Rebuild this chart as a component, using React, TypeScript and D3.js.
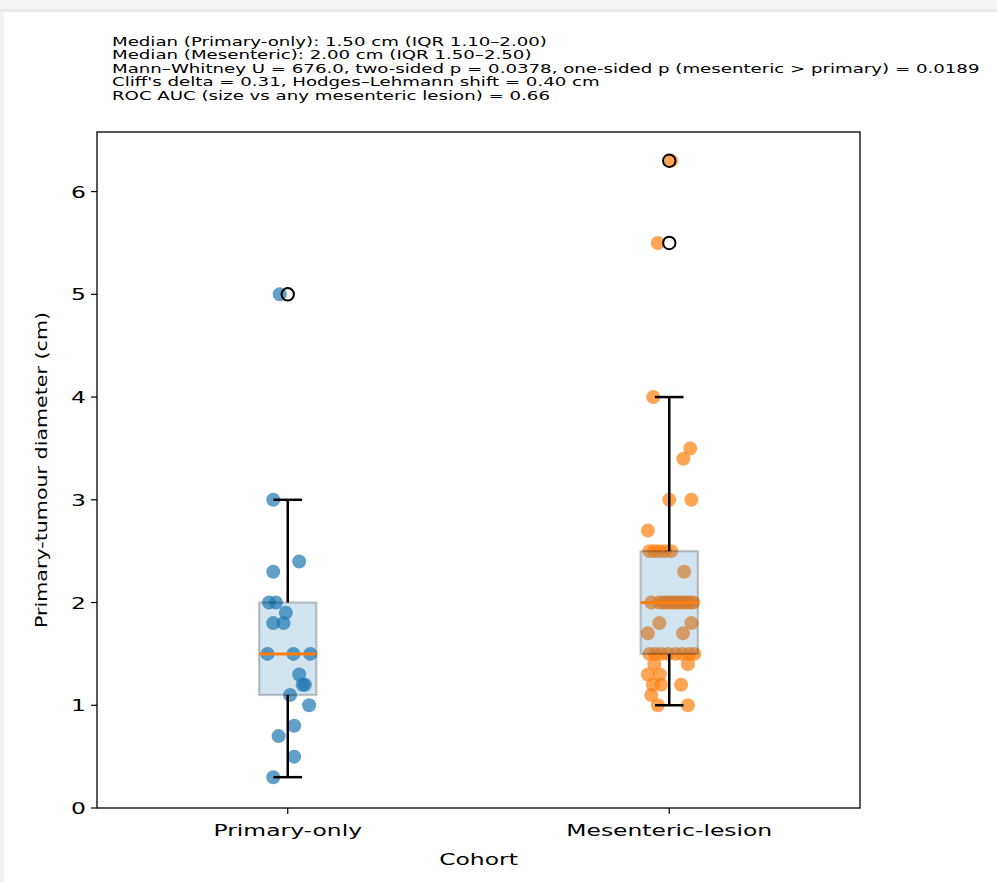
import React, { useEffect } from 'react';
import * as d3 from 'd3';

const categories = ['Primary-only', 'Mesenteric-lesion'];

const primaryValues = [
  5.0, 3.0, 2.4, 2.3, 2.0, 2.0, 1.9, 1.8, 1.8, 1.5, 1.5,
  1.5, 1.3, 1.2, 1.2, 1.1, 1.0, 0.8, 0.7, 0.5, 0.3,
];
const primaryJitter = [
  -0.021, -0.038, 0.030, -0.038, -0.049, -0.031, -0.005, -0.038, -0.011, -0.053, 0.015,
  0.059, 0.030, 0.045, 0.039, 0.006, 0.056, 0.017, -0.024, 0.017, -0.038,
];

const mesentericValues = [
  6.3, 5.5, 4.0, 3.5, 3.4, 3.0, 3.0, 2.7,
  2.5, 2.5, 2.5, 2.5, 2.5, 2.3,
  2.0, 2.0, 2.0, 2.0, 2.0, 2.0, 2.0, 2.0, 2.0, 2.0, 2.0, 2.0, 2.0,
  1.8, 1.8, 1.7, 1.7,
  1.5, 1.5, 1.5, 1.5, 1.5, 1.5, 1.5, 1.5,
  1.4, 1.4, 1.3, 1.3, 1.2, 1.2, 1.2, 1.1, 1.0, 1.0,
];
const mesentericJitter = [
  0.005, -0.030, -0.042, 0.055, 0.037, 0.000, 0.058, -0.056,
  -0.052, -0.039, -0.026, -0.011, 0.005, 0.039,
  -0.047, -0.026, -0.016, -0.008, 0.000, 0.008, 0.016, 0.024, 0.031, 0.039, 0.047, 0.055, 0.063,
  -0.026, 0.058, -0.056, 0.036,
  -0.052, -0.037, -0.021, -0.003, 0.016, 0.034, 0.052, 0.066,
  -0.039, 0.049, -0.056, -0.025, -0.043, -0.021, 0.031, -0.047, -0.030, 0.049,
];

const yTicks = [0, 1, 2, 3, 4, 5, 6];

const headerLines = [
  'Median (Primary-only): 1.50 cm (IQR 1.10\u20132.00)',
  'Median (Mesenteric): 2.00 cm (IQR 1.50\u20132.50)',
  'Mann\u2013Whitney U = 676.0, two-sided p = 0.0378, one-sided p (mesenteric > primary) = 0.0189',
  "Cliff's delta = 0.31, Hodges\u2013Lehmann shift = 0.40 cm",
  'ROC AUC (size vs any mesenteric lesion) = 0.66',
];

const groups = [
  { label: categories[0], pos: 1, values: primaryValues, jitter: primaryJitter, color: '#1f77b4' },
  { label: categories[1], pos: 2, values: mesentericValues, jitter: mesentericJitter, color: '#ff7f0e' },
];

const W = 997;
const H = 883;
const plot = { left: 97, right: 860, top: 132, bottom: 808 };
const font = 'DejaVu Sans, sans-serif';

const App = () => {
  useEffect(() => {
    const svg = d3.select('#chart')
      .append('svg')
      .attr('width', W)
      .attr('height', H)
      .style('position', 'absolute')
      .style('left', 0)
      .style('top', 0);

    // screenshot frame
    svg.append('rect').attr('x', 0).attr('y', 0).attr('width', W).attr('height', H).attr('fill', '#fff');
    svg.append('rect').attr('x', 0).attr('y', 0).attr('width', W).attr('height', 10).attr('fill', '#f3f3f3');
    svg.append('rect').attr('x', 0).attr('y', 9).attr('width', W).attr('height', 3).attr('fill', '#e8e8e8');
    svg.append('rect').attr('x', 0).attr('y', 12).attr('width', 4).attr('height', H - 12).attr('fill', '#f1f1f1');

    const x = d3.scaleLinear().domain([0.5, 2.5]).range([plot.left, plot.right]);
    const y = d3.scaleLinear().domain([0, 6.58]).range([plot.bottom, plot.top]);

    const boxHalf = x(1.075) - x(1);
    const capHalf = boxHalf / 2;
    const sx = 1.42;

    // points
    groups.forEach((g) => {
      svg.append('g')
        .selectAll('circle')
        .data(g.values)
        .enter()
        .append('circle')
        .attr('cx', (d, i) => x(g.pos + g.jitter[i]))
        .attr('cy', (d) => y(d))
        .attr('r', 7)
        .attr('fill', g.color)
        .attr('fill-opacity', 0.7);
    });

    // boxplots
    groups.forEach((g) => {
      const sorted = [...g.values].sort(d3.ascending);
      const q1 = d3.quantile(sorted, 0.25);
      const med = d3.quantile(sorted, 0.5);
      const q3 = d3.quantile(sorted, 0.75);
      const iqr = q3 - q1;
      const inside = sorted.filter((v) => v >= q1 - 1.5 * iqr && v <= q3 + 1.5 * iqr);
      const lo = d3.min(inside);
      const hi = d3.max(inside);
      const fliers = sorted.filter((v) => v < lo || v > hi);
      const cx = x(g.pos);
      const b = svg.append('g');

      b.append('rect')
        .attr('x', cx - boxHalf)
        .attr('y', y(q3))
        .attr('width', boxHalf * 2)
        .attr('height', y(q1) - y(q3))
        .attr('fill', '#1f77b4')
        .attr('fill-opacity', 0.2)
        .attr('stroke', '#000')
        .attr('stroke-opacity', 0.22)
        .attr('stroke-width', 2.2);

      [[q3, hi], [q1, lo]].forEach(([a, c]) => {
        b.append('line')
          .attr('x1', cx).attr('x2', cx)
          .attr('y1', y(a)).attr('y2', y(c))
          .attr('stroke', '#000').attr('stroke-width', 2.5);
        b.append('line')
          .attr('x1', cx - capHalf).attr('x2', cx + capHalf)
          .attr('y1', y(c)).attr('y2', y(c))
          .attr('stroke', '#000').attr('stroke-width', 2.5);
      });

      b.append('line')
        .attr('x1', cx - boxHalf).attr('x2', cx + boxHalf)
        .attr('y1', y(med)).attr('y2', y(med))
        .attr('stroke', '#ff7f0e').attr('stroke-width', 3);

      b.selectAll('.flier')
        .data(fliers)
        .enter()
        .append('circle')
        .attr('cx', cx)
        .attr('cy', (d) => y(d))
        .attr('r', 6.2)
        .attr('fill', 'none')
        .attr('stroke', '#000')
        .attr('stroke-width', 2);
    });

    // axes frame
    svg.append('rect')
      .attr('x', plot.left).attr('y', plot.top)
      .attr('width', plot.right - plot.left).attr('height', plot.bottom - plot.top)
      .attr('fill', 'none').attr('stroke', '#000').attr('stroke-width', 1.3);

    // y ticks
    const yAxis = svg.append('g');
    yTicks.forEach((t) => {
      yAxis.append('line')
        .attr('x1', plot.left - 6).attr('x2', plot.left)
        .attr('y1', y(t)).attr('y2', y(t))
        .attr('stroke', '#000').attr('stroke-width', 1.2);
      yAxis.append('text')
        .attr('transform', `translate(${plot.left - 11},${y(t) + 6}) scale(${sx},1)`)
        .attr('text-anchor', 'end')
        .attr('font-family', font)
        .attr('font-size', 16.5)
        .text(t);
    });

    // x ticks
    groups.forEach((g) => {
      svg.append('line')
        .attr('x1', x(g.pos)).attr('x2', x(g.pos))
        .attr('y1', plot.bottom).attr('y2', plot.bottom + 6)
        .attr('stroke', '#000').attr('stroke-width', 1.2);
      svg.append('text')
        .attr('transform', `translate(${x(g.pos)},${plot.bottom + 28}) scale(${sx},1)`)
        .attr('text-anchor', 'middle')
        .attr('font-family', font)
        .attr('font-size', 16.5)
        .text(g.label);
    });

    svg.append('text')
      .attr('transform', `translate(${(plot.left + plot.right) / 2},${plot.bottom + 57}) scale(${sx},1)`)
      .attr('text-anchor', 'middle')
      .attr('font-family', font)
      .attr('font-size', 16.5)
      .text('Cohort');

    svg.append('text')
      .attr('transform', `translate(47,${(plot.top + plot.bottom) / 2}) rotate(-90) scale(1.25,1)`)
      .attr('text-anchor', 'middle')
      .attr('font-family', font)
      .attr('font-size', 16.5)
      .text('Primary-tumour diameter (cm)');

    // header stats
    headerLines.forEach((line, i) => {
      svg.append('text')
        .attr('transform', `translate(112,${45.5 + i * 13.6}) scale(1.595,1)`)
        .attr('font-family', font)
        .attr('font-size', 11.4)
        .text(line);
    });

    return () => svg.remove();
  }, []);

  return <div id="chart" />;
};

export default App;
